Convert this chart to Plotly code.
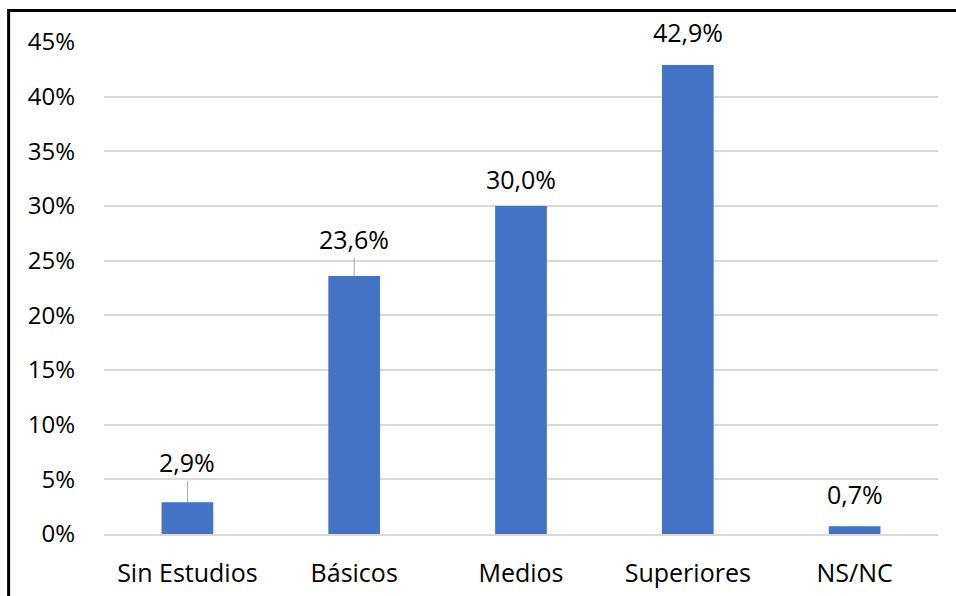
import plotly.graph_objects as go

categories = ["Sin Estudios", "Básicos", "Medios", "Superiores", "NS/NC"]
values = [2.9, 23.6, 30.0, 42.9, 0.7]
value_labels = ["2,9%", "23,6%", "30,0%", "42,9%", "0,7%"]
label_offsets = [40, 37, 27, 33, 32]      # px above bar top
label_leaders = [True, True, False, False, False]
y_ticks = [0, 5, 10, 15, 20, 25, 30, 35, 40, 45]
y_tick_text = [f"{t}%" for t in y_ticks]

W, H = 956, 596
ML, MR, MT, MB = 103.5, 17.5, 42, 62
PW, PH = W - ML - MR, H - MT - MB

FONT = "'Open Sans', Calibri, Carlito, sans-serif"
FS = 25
FS_Y = 24
BAR = "#4472C4"

fig = go.Figure(go.Bar(
    x=categories, y=values, marker=dict(color=BAR, line=dict(width=0)),
    width=0.31, hoverinfo="skip",
))

annotations = []
for c, v, t, off, lead in zip(categories, values, value_labels, label_offsets, label_leaders):
    if lead:
        annotations.append(dict(
            x=c, y=v, xref="x", yref="y", text=t, showarrow=True,
            arrowhead=0, arrowwidth=1, arrowcolor="#A6A6A6",
            ax=0, ay=-off, standoff=0, font=dict(size=FS, color="#000000", family=FONT),
        ))
    else:
        annotations.append(dict(
            x=c, y=v, xref="x", yref="y", text=t, showarrow=False,
            yshift=off, font=dict(size=FS, color="#000000", family=FONT),
        ))

# outer frame around the chart area
fx0 = (8 - ML) / PW
fx1 = (W + 4 - ML) / PW
fy1 = (H - MB - 10.5) / PH
fy0 = (H - MB - (H + 4)) / PH

fig.update_layout(
    width=W, height=H,
    margin=dict(l=ML, r=MR, t=MT, b=MB, autoexpand=False),
    paper_bgcolor="white", plot_bgcolor="white",
    showlegend=False,
    font=dict(family=FONT, size=FS, color="#000000"),
    annotations=annotations,
    shapes=[dict(type="rect", xref="paper", yref="paper",
                 x0=fx0, x1=fx1, y0=fy0, y1=fy1,
                 line=dict(color="#000000", width=3), layer="above")],
    xaxis=dict(
        showgrid=False, showline=True, linecolor="#D9D9D9", linewidth=1.5,
        ticks="", tickfont=dict(size=FS, color="#000000", family=FONT),
        ticklabelstandoff=16, automargin=False,
    ),
    yaxis=dict(
        range=[0, 45], tickvals=y_ticks, ticktext=y_tick_text,
        showgrid=True, gridcolor="#D9D9D9", gridwidth=1.5,
        zeroline=False, showline=False, ticks="",
        tickfont=dict(size=FS_Y, color="#000000", family=FONT),
        ticklabelstandoff=28, automargin=False,
    ),
)

fig.write_html("out.html")
